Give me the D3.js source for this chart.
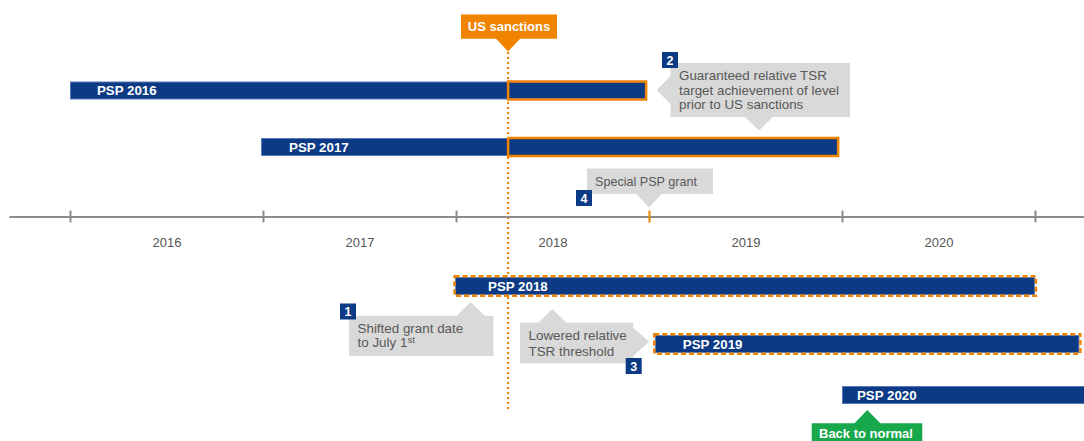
<!DOCTYPE html>
<html><head><meta charset="utf-8">
<script src="https://cdn.jsdelivr.net/npm/d3@7"></script>
<style>
html,body{margin:0;padding:0;background:#fff;}
svg{display:block;font-family:"Liberation Sans",Arial,Helvetica,sans-serif;}
</style></head>
<body>
<svg id="chart" width="1084" height="441"></svg>
<script>
// ---------------- data ----------------
const plans      = ["PSP 2016", "PSP 2017", "PSP 2018", "PSP 2019", "PSP 2020"];
const planStart  = [2016.0, 2016.99, 2017.995, 2019.03, 2020.0];
const planEnd    = [2018.985, 2019.98, 2021.0, 2021.23, 2021.6];
const planMark   = ["guaranteed", "guaranteed", "lowered", "lowered", "normal"];
const yearLabels = [2016, 2017, 2018, 2019, 2020];
const yearTicks  = [2016, 2017, 2018, 2019, 2020, 2021];
const sanctionDate = 2018.27;
const specialGrantDate = 2019.0;
const eventLabel = "US sanctions";
const normalLabel = "Back to normal";
const noteNumbers = ["1", "2", "3", "4"];
const noteTexts = [
  ["Shifted grant date", "to July 1"],
  ["Guaranteed relative TSR", "target achievement of level", "prior to US sanctions"],
  ["Lowered relative", "TSR threshold"],
  ["Special PSP grant"]
];

// ---------------- layout ----------------
const W = 1084, H = 441;
const NAVY = "#0c3a85", ORANGE = "#f08300", GREY = "#d9d9d9", TXT = "#585858", GREEN = "#16a84a";
const svg = d3.select("#chart");
const axisY = 216.5;

const x = d3.scaleLinear().domain([2016, 2021]).range([70, 1035]);
const xAxisScale = x.copy().domain([x.invert(9), x.invert(W)]).range([9, W]);
const yRow = d3.scaleOrdinal().domain(plans).range([90.5, 147, 286, 344, 395]);
const barH = 18;
const labelPad = [27, 28, 33, 28, 15];

// sanction dotted line (behind bars)
svg.append("line")
  .attr("x1", x(sanctionDate)).attr("x2", x(sanctionDate))
  .attr("y1", 52).attr("y2", 410)
  .attr("stroke", ORANGE).attr("stroke-width", 2.2)
  .attr("stroke-dasharray", "2,3");

// ---------------- axis ----------------
const gAxis = svg.append("g").attr("transform", `translate(0,${axisY})`)
  .call(d3.axisBottom(xAxisScale).tickValues(yearTicks).tickSizeInner(6).tickSizeOuter(0).tickFormat(""));
gAxis.select(".domain").attr("stroke", "#8c8c8c").attr("stroke-width", 2);
gAxis.selectAll(".tick line")
  .attr("y1", -6).attr("y2", 6)
  .attr("stroke", "#8c8c8c").attr("stroke-width", 2);
gAxis.selectAll(".tick").filter(d => d === specialGrantDate).select("line").attr("stroke", ORANGE);

const gLab = svg.append("g").attr("transform", `translate(0,${axisY})`)
  .call(d3.axisBottom(xAxisScale).tickValues(yearLabels.map(d => d + 0.5)).tickSize(0).tickPadding(21)
    .tickFormat(d => String(Math.floor(d))));
gLab.select(".domain").remove();
gLab.selectAll("text").attr("fill", "#555").attr("font-size", 13).attr("font-family", "Liberation Sans, Arial, sans-serif");

// ---------------- bars ----------------
const barData = plans.map((p, i) => ({p, s: planStart[i], e: planEnd[i], m: planMark[i], pad: labelPad[i]}));
const gBars = svg.append("g");
gBars.selectAll("rect.bar").data(barData).join("rect")
  .attr("class", "bar")
  .attr("x", d => x(d.s) + 0.5).attr("y", d => yRow(d.p) - barH / 2 + 0.5)
  .attr("width", d => x(d.e) - x(d.s) - 1).attr("height", barH - 1)
  .attr("fill", NAVY).attr("stroke", "#5479b8").attr("stroke-width", 1);

// guaranteed (solid orange) outline from sanction date
gBars.selectAll("rect.guar").data(barData.filter(d => d.m === "guaranteed")).join("rect")
  .attr("class", "guar")
  .attr("x", x(sanctionDate)).attr("y", d => yRow(d.p) - barH / 2)
  .attr("width", d => x(d.e) - x(sanctionDate)).attr("height", barH)
  .attr("fill", "none").attr("stroke", ORANGE).attr("stroke-width", 2.5);

// lowered (dashed orange) outline
gBars.selectAll("rect.low").data(barData.filter(d => d.m === "lowered")).join("rect")
  .attr("class", "low")
  .attr("x", d => x(d.s) - 0.5).attr("y", d => yRow(d.p) - barH / 2 - 0.8)
  .attr("width", d => x(d.e) - x(d.s) + 1.5).attr("height", barH + 1.6)
  .attr("fill", "none").attr("stroke", ORANGE).attr("stroke-width", 2.4)
  .attr("stroke-dasharray", "5,3");

gBars.selectAll("text.bl").data(barData).join("text")
  .attr("class", "bl")
  .attr("x", d => x(d.s) + d.pad).attr("y", d => yRow(d.p)).attr("dy", "0.36em")
  .attr("fill", "#fff").attr("font-weight", "bold").attr("font-size", 13.3)
  .text(d => d.p);

// ---------------- callouts ----------------
const gNotes = svg.append("g");
function poly(pts) { return "M" + pts.map(p => p.join(",")).join("L") + "Z"; }

function numberBox(n, bx, by) {
  gNotes.append("rect").attr("x", bx).attr("y", by).attr("width", 16).attr("height", 16).attr("fill", NAVY);
  gNotes.append("text").attr("x", bx + 8).attr("y", by + 8).attr("dy", "0.36em")
    .attr("text-anchor", "middle").attr("fill", "#fff").attr("font-weight", "bold").attr("font-size", 12.5).text(n);
}
function lines(arr, tx, ty, lh, fs) {
  const t = gNotes.append("text").attr("fill", TXT).attr("font-size", fs);
  arr.forEach((l, i) => t.append("tspan").attr("x", tx).attr("y", ty + i * lh).attr("dy", "0.36em").text(l));
  return t;
}

// US sanctions box
const sx = x(sanctionDate);
gNotes.append("path").attr("fill", ORANGE)
  .attr("d", poly([[461, 14.5], [557, 14.5], [557, 38.7], [sx + 12, 38.7], [sx, 51.5], [sx - 12, 38.7], [461, 38.7]]));
gNotes.append("text").attr("x", (461 + 557) / 2).attr("y", 26.5).attr("dy", "0.36em")
  .attr("text-anchor", "middle").attr("fill", "#fff").attr("font-weight", "bold").attr("font-size", 13)
  .text(eventLabel);

// Note 2 (guaranteed TSR) – points left to PSP 2016 end, down to PSP 2017
const e16 = x(planEnd[0]);
gNotes.append("path").attr("fill", GREY)
  .attr("d", poly([[670.5, 63], [850, 63], [850, 117], [773, 117], [759, 130.5], [745, 117], [670.5, 117],
                   [670.5, 104], [e16 + 10.5, 90], [670.5, 76]]));
lines(noteTexts[1], 679, 75.5, 14.5, 13.4);
numberBox(noteNumbers[1], 662, 52);

// Note 4 (special grant)
const sg = x(specialGrantDate);
gNotes.append("path").attr("fill", GREY)
  .attr("d", poly([[587, 168.5], [713, 168.5], [713, 194], [sg + 12.5, 194], [sg, 207.5], [sg - 12.5, 194], [587, 194]]));
lines(noteTexts[3], 595, 181.5, 14.5, 12.6);
numberBox(noteNumbers[3], 576, 190);

// Note 1 (shifted grant date)
gNotes.append("path").attr("fill", GREY)
  .attr("d", poly([[349, 315.7], [456.8, 315.7], [470.7, 302], [484.6, 315.7], [493.5, 315.7], [493.5, 356], [349, 356]]));
const t1 = lines(noteTexts[0], 357.5, 328, 14.5, 13.4);
t1.select("tspan:last-child").append("tspan").attr("dy", "-0.45em").attr("font-size", 9.5).text("st");
numberBox(noteNumbers[0], 340, 303.5);

// Note 3 (lowered TSR)
const s19 = x(planStart[3]);
gNotes.append("path").attr("fill", GREY)
  .attr("d", poly([[520, 322.7], [538.3, 322.7], [552.3, 309], [566.3, 322.7], [633.3, 322.7], [633.3, 327.7],
                   [s19 - 5.5, 341.7], [633.3, 355.7], [633.3, 363.3], [520, 363.3]]));
lines(noteTexts[2], 528.5, 335.5, 16, 13.4);
numberBox(noteNumbers[2], 625.7, 358);

// Back to normal
gNotes.append("path").attr("fill", GREEN)
  .attr("d", poly([[811.7, 423.3], [854.5, 423.3], [867.3, 410], [880.3, 423.3], [922.3, 423.3], [922.3, 450], [811.7, 450]]));
gNotes.append("text").attr("x", 819).attr("y", 433.5).attr("dy", "0.36em")
  .attr("fill", "#fff").attr("font-weight", "bold").attr("font-size", 13).text(normalLabel);
</script>
</body></html>
